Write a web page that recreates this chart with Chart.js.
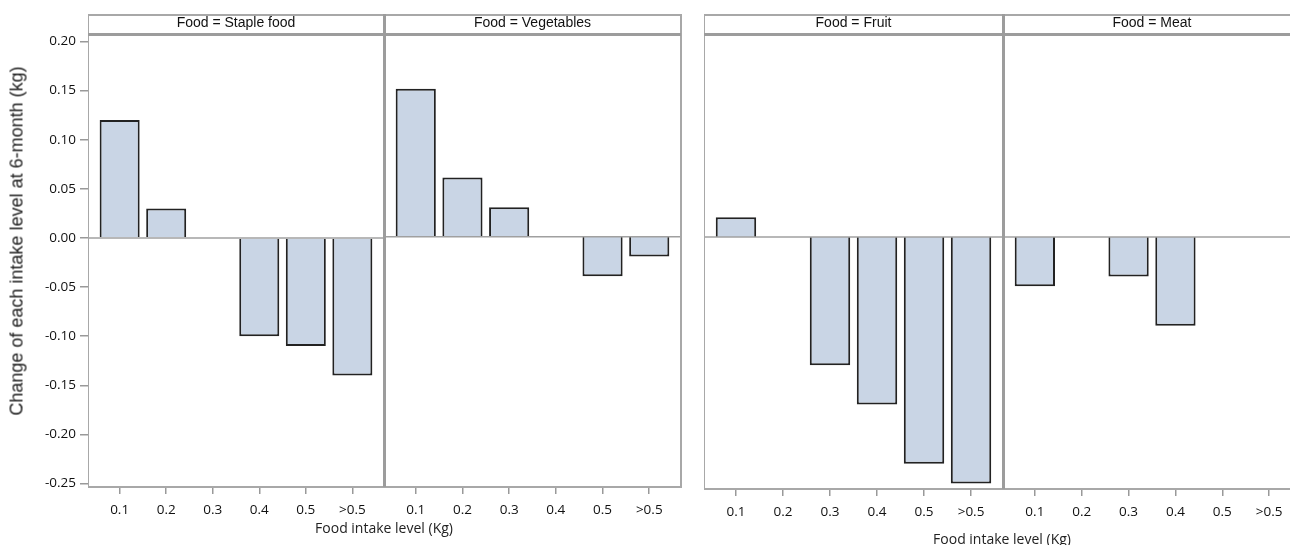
<!DOCTYPE html>
<html>
<head>
<meta charset="utf-8">
<script src="https://cdn.jsdelivr.net/npm/chart.js@4.4.1/dist/chart.umd.min.js"></script>
<style>
html,body{margin:0;padding:0;background:#fff;overflow:hidden;width:1290px;height:545px;}
#wrap{position:relative;width:1290px;height:545px;overflow:hidden;}
canvas{position:absolute;}
.ln{position:absolute;z-index:3;pointer-events:none;}
.hdr{position:absolute;z-index:3;top:14px;height:20px;line-height:21px;text-align:center;font:14px "Liberation Sans",Arial,sans-serif;color:#111;white-space:nowrap;}
.xt{position:absolute;z-index:3;transform:translate(-50%,-50%);font:14px "Open Sans",sans-serif;color:#222;white-space:nowrap;}
.yt{position:absolute;z-index:3;transform:translate(-50%,-50%) rotate(-90deg);font:18px "Liberation Sans",Arial,sans-serif;color:#222;white-space:nowrap;}
</style>
</head>
<body>
<div id="wrap"></div>
<script>
// ---- data ----
const categories = ['0.1', '0.2', '0.3', '0.4', '0.5', '>0.5'];
const stapleFood = [0.12, 0.03, 0, -0.10, -0.11, -0.14];
const vegetables = [0.15, 0.06, 0.03, 0, -0.04, -0.02];
const fruit = [0.02, 0, -0.13, -0.17, -0.23, -0.25];
const meat = [-0.05, 0, -0.04, -0.09, null, null];
const yTicks = [0.20, 0.15, 0.10, 0.05, 0.00, -0.05, -0.10, -0.15, -0.20, -0.25];
const facetTitles = ['Food = Staple food', 'Food = Vegetables', 'Food = Fruit', 'Food = Meat'];
const xTitle = 'Food intake level (Kg)';
const yTitle = 'Change of each intake level at 6-month (kg)';

Chart.defaults.font.family = '"Open Sans", sans-serif';
Chart.defaults.font.size = 13.5;
Chart.defaults.color = '#111';

const wrap = document.getElementById('wrap');
const FRAME = '#a8a8a8', THICK = '#9c9c9c';

function line(x, y, w, h, c) {
  const d = document.createElement('div');
  d.className = 'ln';
  d.style.cssText = `left:${x}px;top:${y}px;width:${w}px;height:${h}px;background:${c};`;
  wrap.appendChild(d);
}
function text(cls, str, x, y, w) {
  const d = document.createElement('div');
  d.className = cls;
  d.textContent = str;
  d.style.left = x + 'px';
  d.style.top = y + 'px';
  if (w) d.style.width = w + 'px';
  wrap.appendChild(d);
}

const zeroLine = {
  id: 'zeroLine',
  afterDatasetsDraw(chart) {
    const {ctx, chartArea, scales} = chart;
    const y = scales.y.getPixelForValue(0);
    ctx.save();
    ctx.strokeStyle = '#a0a0a0';
    ctx.lineWidth = 1.5;
    ctx.beginPath();
    ctx.moveTo(chartArea.left, y);
    ctx.lineTo(chartArea.right, y);
    ctx.stroke();
    ctx.restore();
  }
};

function facet(values, left, width, height, yMin, yMax, showY) {
  const c = document.createElement('canvas');
  c.width = width; c.height = height;
  c.style.left = left + 'px';
  c.style.top = '25px';
  wrap.appendChild(c);
  return new Chart(c, {
    type: 'bar',
    data: {
      datasets: [{
        data: values.map((v, i) => ({x: i, y: v})),
        backgroundColor: '#c9d5e5',
        borderColor: '#222',
        borderWidth: 2,
        categoryPercentage: 1,
        barPercentage: 0.86
      }]
    },
    options: {
      responsive: false,
      animation: false,
      devicePixelRatio: 1,
      layout: {padding: {top: 10, left: 0, right: 0, bottom: 0}},
      plugins: {legend: {display: false}, tooltip: {enabled: false}},
      scales: {
        x: {
          type: 'linear',
          min: -0.68, max: 5.68,
          offset: false,
          border: {display: false},
          grid: {display: true, offset: false, drawOnChartArea: false, drawTicks: true, tickLength: 7, color: '#999', lineWidth: 1.5},
          afterBuildTicks: s => { s.ticks = categories.map((_, i) => ({value: i})); },
          afterFit: s => { s.height = 40; },
          ticks: {padding: 8, color: '#111', font: {size: 13.5}, callback: v => categories[v], autoSkip: false, maxRotation: 0}
        },
        y: {
          display: showY,
          min: yMin, max: yMax,
          border: {display: false},
          grid: {display: true, drawOnChartArea: false, drawTicks: true, tickLength: 8, color: '#999', lineWidth: 1.5},
          afterBuildTicks: s => { s.ticks = yTicks.map(v => ({value: v})); },
          afterFit: s => { s.width = showY ? 88 : 0; },
          ticks: {padding: 4, color: '#111', font: {size: 13.5}, callback: v => Number(v).toFixed(2)}
        }
      }
    },
    plugins: [zeroLine]
  });
}

// left panel (Staple food, Vegetables)
facet(stapleFood, 0, 384, 502, -0.2536, 0.2045, true);
facet(vegetables, 384, 297, 502, -0.2536, 0.2045, false);
// right panel (Fruit, Meat)
facet(fruit, 704, 299, 504, -0.2556, 0.2049, false);
facet(meat, 1003, 298, 504, -0.2556, 0.2049, false);

// frames - left panel
line(88, 14, 593, 1.5, FRAME);        // top
line(87.5, 14, 1.5, 473.5, FRAME);    // left axis
line(680, 14, 1.5, 473.5, FRAME);     // right
line(87.5, 486, 594, 1.5, FRAME);     // bottom axis
line(88, 33, 593, 2.5, THICK);        // header bottom
line(383, 14, 2.5, 473, THICK);       // divider
// frames - right panel
line(704, 14, 600, 1.5, FRAME);
line(703.5, 14, 1.5, 475.5, FRAME);
line(703.5, 488, 600, 1.5, FRAME);
line(704, 33, 600, 2.5, THICK);
line(1002, 14, 2.5, 475, THICK);

// facet headers
text('hdr', facetTitles[0], 88, 14, 296);
text('hdr', facetTitles[1], 384, 14, 297);
text('hdr', facetTitles[2], 704, 14, 299);
text('hdr', facetTitles[3], 1003, 14, 298);

// axis titles
text('xt', xTitle, 384, 527);
text('xt', xTitle, 1002, 538);
text('yt', yTitle, 17, 241);
</script>
</body>
</html>
